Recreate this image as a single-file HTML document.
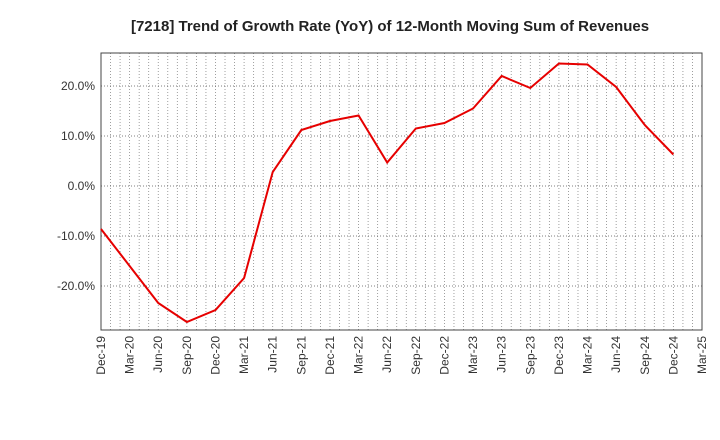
<!DOCTYPE html>
<html><head><meta charset="utf-8"><style>
body{margin:0;background:#fff;}
svg{display:block;font-family:"Liberation Sans",sans-serif;}
</style></head><body>
<svg id="chart" width="720" height="440">
<text x="390" y="31" text-anchor="middle" font-size="15" font-weight="bold" fill="#222">[7218]  Trend of Growth Rate (YoY) of 12-Month Moving Sum of Revenues</text>
<g id="grid"></g><g id="axes"></g><g id="series"></g>
</svg>
<script>
const categories=["Dec-19","Mar-20","Jun-20","Sep-20","Dec-20","Mar-21","Jun-21","Sep-21","Dec-21","Mar-22","Jun-22","Sep-22","Dec-22","Mar-23","Jun-23","Sep-23","Dec-23","Mar-24","Jun-24","Sep-24","Dec-24","Mar-25"];
const values=[-8.6,-16,-23.4,-27.2,-24.8,-18.4,2.8,11.2,13,14.1,4.7,11.5,12.6,15.5,22,19.6,24.5,24.3,19.8,12.2,6.3];
const yTicks=[-20,-10,0,10,20];
const yTickLabels=["-20.0%","-10.0%","0.0%","10.0%","20.0%"];
const L=101,R=702,T=53,B=330,yMax=26.6,yMin=-28.8;
const ns="http://www.w3.org/2000/svg";
const xs=i=>L+(R-L)*i/(categories.length-1);
const ys=v=>T+(yMax-v)/(yMax-yMin)*(B-T);
function mk(t,a,p){const e=document.createElementNS(ns,t);for(const k in a)e.setAttribute(k,a[k]);p.appendChild(e);return e;}
const grid=document.getElementById('grid'),axes=document.getElementById('axes'),series=document.getElementById('series');
mk('rect',{x:L,y:T,width:R-L,height:B-T,fill:'#fff',stroke:'none'},grid);
const nm=(categories.length-1)*3;
for(let m=1;m<nm;m++){const x=L+(R-L)*m/nm;
const l=mk('line',{x1:x,x2:x,y1:T,y2:B,stroke:'#888','stroke-width':0.8,'stroke-dasharray':'1,2'},grid);

}
yTicks.forEach((v,i)=>{const y=ys(v);
const l=mk('line',{x1:L,x2:R,y1:y,y2:y,stroke:'#555','stroke-width':0.8,'stroke-dasharray':'1,2'},grid);


const t=mk('text',{x:L-6,y:y+4,'text-anchor':'end','font-size':12,fill:'#333'},axes);t.textContent=yTickLabels[i];

});
mk('rect',{x:L,y:T,width:R-L,height:B-T,fill:'none',stroke:'#444','stroke-width':1},axes);
categories.forEach((c,i)=>{const x=xs(i);
const t=mk('text',{transform:`translate(${x+4},${B+6}) rotate(-90)`,'text-anchor':'end','font-size':12,fill:'#333'},axes);t.textContent=c;

});
const p=mk('polyline',{points:values.map((v,i)=>xs(i)+','+ys(v)).join(' '),fill:'none',stroke:'#e60000','stroke-width':2},series);


</script>
</body></html>
